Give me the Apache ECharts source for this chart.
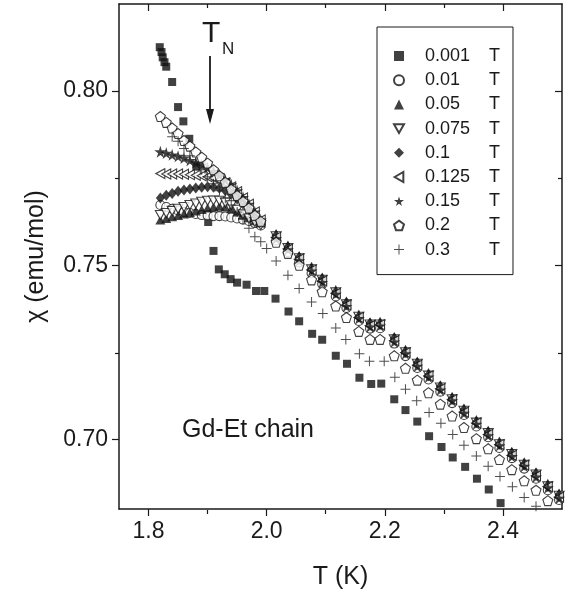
<!DOCTYPE html>
<html>
<head>
<meta charset="utf-8">
<script src="https://cdn.jsdelivr.net/npm/echarts@6/dist/echarts.min.js"></script>
<style>
html,body{margin:0;padding:0;background:#fff;}
#chart{width:569px;height:595px;}
</style>
</head>
<body>
<div id="chart"></div>
<script>
// ---- data ----
const FIELDS = ['0.001', '0.01', '0.05', '0.075', '0.1', '0.125', '0.15', '0.2', '0.3'];

const T_SQ = [1.819,1.822,1.824,1.827,1.830,1.840,1.850,1.859,1.869,1.881,1.901,1.910,1.919,1.929,1.939,1.950,1.966,1.982,1.996,2.015,2.037,2.055,2.077,2.094,2.117,2.136,2.157,2.177,2.194,2.216,2.235,2.255,2.275,2.296,2.315,2.336,2.356,2.376,2.396,2.416];
const CHI_0001 = [0.8126,0.8112,0.8097,0.8083,0.8070,0.8026,0.7954,0.7913,0.7863,0.7783,0.7624,0.7541,0.7488,0.7474,0.7460,0.7450,0.7444,0.7426,0.7426,0.7404,0.7367,0.7339,0.7303,0.7286,0.7240,0.7217,0.7177,0.7159,0.7160,0.7115,0.7084,0.7051,0.7009,0.6978,0.6948,0.6921,0.6887,0.6856,0.6817,0.6795];

const T_LOW = [1.82,1.83,1.84,1.85,1.86,1.87,1.88,1.89,1.90,1.91,1.92,1.93,1.94,1.95,1.96,1.97,1.98,1.99];
const T_HIGH = [2.016,2.036,2.055,2.076,2.094,2.117,2.135,2.156,2.175,2.192,2.216,2.235,2.255,2.274,2.294,2.314,2.334,2.355,2.375,2.394,2.415,2.436,2.456,2.476,2.495];

const CHI_001 = [0.7673,0.7667,0.7662,0.7657,0.7653,0.7650,0.7647,0.7644,0.7643,0.7641,0.7641,0.7640,0.7637,0.7634,0.7631,0.7627,0.7621,0.7614,
  0.7571,0.7538,0.7508,0.7477,0.7446,0.7410,0.7377,0.7340,0.7318,0.7319,0.7275,0.7239,0.7205,0.7172,0.7137,0.7104,0.7070,0.7037,0.7006,0.6975,0.6946,0.6916,0.6887,0.6854,0.6826];
const CHI_005 = [0.7630,0.7634,0.7639,0.7643,0.7647,0.7651,0.7656,0.7660,0.7664,0.7667,0.7669,0.7667,0.7662,0.7653,0.7644,0.7636,0.7628,0.7621,
  0.7591,0.7558,0.7528,0.7497,0.7466,0.7430,0.7397,0.7360,0.7338,0.7339,0.7295,0.7259,0.7225,0.7192,0.7157,0.7124,0.7090,0.7057,0.7026,0.6995,0.6966,0.6936,0.6907,0.6874,0.6846];
const CHI_0075 = [0.7644,0.7650,0.7656,0.7662,0.7667,0.7673,0.7677,0.7682,0.7685,0.7686,0.7685,0.7680,0.7672,0.7659,0.7646,0.7634,0.7624,0.7615,
  0.7583,0.7549,0.7520,0.7488,0.7458,0.7422,0.7388,0.7352,0.7330,0.7330,0.7287,0.7250,0.7217,0.7183,0.7149,0.7115,0.7082,0.7048,0.7018,0.6986,0.6958,0.6927,0.6899,0.6865,0.6838];
const CHI_01 = [0.7693,0.7701,0.7706,0.7712,0.7716,0.7719,0.7722,0.7724,0.7725,0.7724,0.7721,0.7714,0.7703,0.7690,0.7676,0.7660,0.7643,0.7624,
  0.7585,0.7552,0.7523,0.7490,0.7461,0.7423,0.7392,0.7353,0.7333,0.7332,0.7290,0.7252,0.7220,0.7185,0.7152,0.7117,0.7085,0.7050,0.7021,0.6988,0.6961,0.6929,0.6902,0.6867,0.6841];
const CHI_0125 = [0.7763,0.7762,0.7762,0.7762,0.7761,0.7760,0.7758,0.7757,0.7754,0.7750,0.7744,0.7737,0.7725,0.7711,0.7693,0.7675,0.7653,0.7630,
  0.7580,0.7546,0.7518,0.7486,0.7455,0.7419,0.7386,0.7350,0.7326,0.7329,0.7283,0.7249,0.7213,0.7182,0.7145,0.7114,0.7078,0.7047,0.7014,0.6985,0.6954,0.6926,0.6895,0.6864,0.6834];
const CHI_015 = [0.7826,0.7822,0.7817,0.7813,0.7808,0.7801,0.7795,0.7788,0.7780,0.7770,0.7760,0.7745,0.7731,0.7714,0.7695,0.7675,0.7653,0.7630,
  0.7576,0.7545,0.7513,0.7484,0.7451,0.7417,0.7382,0.7347,0.7323,0.7326,0.7280,0.7246,0.7210,0.7179,0.7142,0.7111,0.7075,0.7044,0.7011,0.6982,0.6951,0.6923,0.6892,0.6861,0.6831];
const CHI_02 = [0.7927,0.7910,0.7894,0.7878,0.7858,0.7842,0.7825,0.7810,0.7793,0.7774,0.7757,0.7738,0.7718,0.7700,0.7683,0.7664,0.7643,0.7626,
  0.7566,0.7534,0.7500,0.7458,0.7424,0.7383,0.7350,0.7310,0.7287,0.7287,0.7240,0.7204,0.7170,0.7134,0.7101,0.7067,0.7034,0.7002,0.6973,0.6942,0.6913,0.6881,0.6854,0.6824,0.6794];

const T_PLUS = [1.84,1.85,1.86,1.87,1.88,1.89,1.90,1.91,1.92,1.93,1.94,1.95,1.96,1.97,1.98,1.99,2.00,
  2.016,2.036,2.055,2.076,2.095,2.117,2.134,2.157,2.174,2.199,2.217,2.235,2.254,2.275,2.295,2.315,2.334,2.355,2.375,2.395,2.416,2.436,2.456];
const CHI_03 = [0.7869,0.7856,0.7835,0.7814,0.7794,0.7774,0.7754,0.7734,0.7714,0.7693,0.7673,0.7653,0.7633,0.7606,0.7582,0.7567,0.7548,
  0.7512,0.7471,0.7433,0.7394,0.7361,0.7320,0.7287,0.7246,0.7224,0.7224,0.7178,0.7144,0.7111,0.7077,0.7046,0.7014,0.6983,0.6952,0.6923,0.6893,0.6864,0.6833,0.6808];

const X_LABELS = [1.8, 2.0, 2.2, 2.4];
const X_MINOR = [1.9, 2.1, 2.3];
const Y_LABELS = [0.70, 0.75, 0.80];
const Y_MINOR = [0.725, 0.775];

// ---- styling ----
const INK = '#1a1a1a';
const FONT = 'Liberation Sans, Arial, sans-serif';
const T_MID = T_LOW.concat(T_HIGH);
function pairs(xs, ys) { return xs.map((x, i) => [x, ys[i]]); }

const SYM = {
  star: 'path://M50,0 L61,35 L98,35 L68,57 L79,91 L50,70 L21,91 L32,57 L2,35 L39,35 Z',
  pent: 'path://M50,0 L98,35 L79,91 L21,91 L2,35 Z',
  down: 'path://M0,0 L100,0 L50,87 Z',
  left: 'path://M0,50 L87,0 L87,100 Z',
  plus: 'path://M45,0 L55,0 L55,45 L100,45 L100,55 L55,55 L55,100 L45,100 L45,55 L0,55 L0,45 L45,45 Z'
};
const filled = { color: '#111', borderWidth: 0 };
const open = { color: '#fff', borderColor: '#111', borderWidth: 1.1 };

const seriesDefs = [
  { name: FIELDS[0], data: pairs(T_SQ, CHI_0001), symbol: 'rect', size: 8, style: filled },
  { name: FIELDS[1], data: pairs(T_MID, CHI_001), symbol: 'circle', size: 9, style: open },
  { name: FIELDS[2], data: pairs(T_MID, CHI_005), symbol: 'triangle', size: [10, 9], style: filled },
  { name: FIELDS[3], data: pairs(T_MID, CHI_0075), symbol: SYM.down, size: [10, 9], style: open },
  { name: FIELDS[4], data: pairs(T_MID, CHI_01), symbol: 'diamond', size: [9, 11], style: filled },
  { name: FIELDS[5], data: pairs(T_MID, CHI_0125), symbol: SYM.left, size: [9, 10], style: open },
  { name: FIELDS[6], data: pairs(T_MID, CHI_015), symbol: SYM.star, size: 12, style: filled },
  { name: FIELDS[7], data: pairs(T_MID, CHI_02), symbol: SYM.pent, size: 10, style: open },
  { name: FIELDS[8], data: pairs(T_PLUS, CHI_03), symbol: SYM.plus, size: 10, style: { color: '#222', borderWidth: 0 } }
];

const axisLineStyle = { color: INK, width: 1.5 };
function xAx(grid, pos, ticks, len, inside, line, labels) {
  return {
    gridIndex: grid, type: 'value', position: pos, min: 1.75, max: 2.5,
    axisLine: { show: line, onZero: false, lineStyle: axisLineStyle },
    axisTick: { show: true, customValues: ticks, length: len, inside: inside, lineStyle: { color: INK, width: 1.2 } },
    axisLabel: labels ? { show: true, customValues: X_LABELS, formatter: v => v.toFixed(1), fontSize: 23, fontFamily: FONT, color: INK, margin: 11 } : { show: false },
    splitLine: { show: false },
    name: labels ? 'T (K)' : '', nameLocation: 'middle', nameGap: 56,
    nameTextStyle: { fontSize: 25, fontFamily: FONT, color: INK }
  };
}
function yAx(grid, pos, ticks, len, inside, line, labels) {
  return {
    gridIndex: grid, type: 'value', position: pos, min: 0.68, max: 0.825,
    axisLine: { show: line, onZero: false, lineStyle: axisLineStyle },
    axisTick: { show: true, customValues: ticks, length: len, inside: inside, lineStyle: { color: INK, width: 1.2 } },
    axisLabel: labels ? { show: true, customValues: Y_LABELS, formatter: v => v.toFixed(2), fontSize: 23, fontFamily: FONT, color: INK, margin: 11 } : { show: false },
    splitLine: { show: false },
    name: labels ? 'χ (emu/mol)' : '', nameLocation: 'middle', nameGap: 70,
    nameTextStyle: { fontSize: 25, fontFamily: FONT, color: INK }
  };
}

const gridRect = { left: 119, right: 7, top: 4, bottom: 85 };

const option = {
  backgroundColor: '#fff',
  animation: false,
  grid: [Object.assign({}, gridRect), Object.assign({}, gridRect)],
  xAxis: [
    xAx(0, 'bottom', X_LABELS, 7, false, true, true),
    xAx(0, 'top', X_LABELS, 7, true, true, false),
    xAx(1, 'bottom', X_MINOR, 4, false, false, false),
    xAx(1, 'top', X_MINOR, 4, true, false, false)
  ],
  yAxis: [
    yAx(0, 'left', Y_LABELS, 7, false, true, true),
    yAx(0, 'right', Y_LABELS, 7, true, true, false),
    yAx(1, 'left', Y_MINOR, 4, false, false, false),
    yAx(1, 'right', Y_MINOR, 4, true, false, false)
  ],
  legend: {
    orient: 'vertical', left: 377, top: 27,
    padding: [19, 13, 15, 16],
    itemWidth: 10, itemHeight: 10, itemGap: 4.2,
    borderColor: INK, borderWidth: 1, borderRadius: 0,
    data: FIELDS,
    formatter: name => '{a|' + name + '}{b|T}',
    textStyle: {
      fontSize: 18, fontFamily: FONT, color: INK, lineHeight: 20,
      rich: {
        a: { fontSize: 18, fontFamily: FONT, color: INK, lineHeight: 20, width: 64, padding: [0, 0, 0, 16] },
        b: { fontSize: 18, fontFamily: FONT, color: INK, lineHeight: 20 }
      }
    }
  },
  graphic: [
    { type: 'text', left: 202, top: 19, style: { text: 'T', font: '30px ' + FONT, fill: INK } },
    { type: 'text', left: 222, top: 41, style: { text: 'N', font: '17px ' + FONT, fill: INK } },
    { type: 'line', shape: { x1: 210, y1: 56, x2: 210, y2: 112 }, style: { stroke: INK, lineWidth: 1.8 } },
    { type: 'polygon', shape: { points: [[206, 109], [214, 109], [210, 124]] }, style: { fill: INK } },
    { type: 'text', left: 182, top: 418, style: { text: 'Gd-Et chain', font: '25px ' + FONT, fill: INK } }
  ],
  series: seriesDefs.map(s => ({
    type: 'scatter', name: s.name, xAxisIndex: 0, yAxisIndex: 0,
    data: s.data, symbol: s.symbol, symbolSize: s.size,
    itemStyle: s.style, emphasis: { disabled: true }, clip: true
  }))
};

const chart = echarts.init(document.getElementById('chart'), null, { renderer: 'canvas' });
chart.setOption(option);
</script>
</body>
</html>
